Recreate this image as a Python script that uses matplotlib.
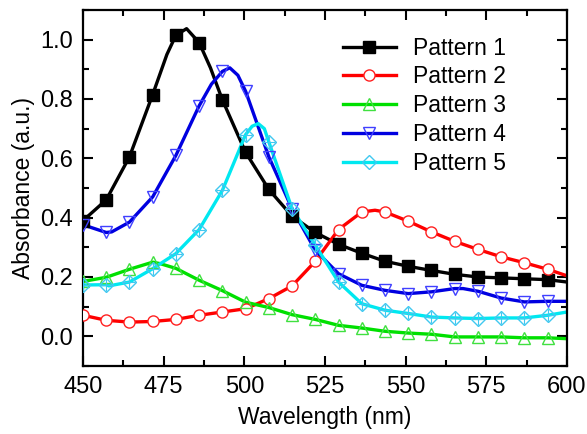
import numpy as np
import matplotlib
matplotlib.use("Agg")
import matplotlib.pyplot as plt
from matplotlib.ticker import MultipleLocator

plt.rcParams['font.family'] = ['Liberation Sans', 'DejaVu Sans']

# marker positions (nm), shared by all patterns
wavelength = [450.0, 457.2, 464.4, 471.6, 478.8, 486.0, 493.2, 500.4, 507.6,
              514.8, 522.0, 529.2, 536.4, 543.6, 550.8, 558.0, 565.2, 572.4,
              579.6, 586.8, 594.0]

# absorbance read at the markers
pattern1 = [0.390, 0.460, 0.605, 0.815, 1.015, 0.990, 0.797, 0.620, 0.495,
            0.405, 0.350, 0.310, 0.280, 0.253, 0.236, 0.222, 0.209, 0.200,
            0.197, 0.194, 0.191]
pattern2 = [0.071, 0.054, 0.048, 0.050, 0.057, 0.071, 0.082, 0.093, 0.127,
            0.170, 0.253, 0.360, 0.419, 0.419, 0.388, 0.352, 0.320, 0.293,
            0.268, 0.248, 0.226]
pattern3 = [0.185, 0.199, 0.226, 0.250, 0.229, 0.189, 0.154, 0.115, 0.097,
            0.073, 0.057, 0.037, 0.028, 0.017, 0.011, 0.007, -0.002, -0.002,
            -0.002, -0.005, -0.005]
pattern4 = [0.376, 0.350, 0.385, 0.470, 0.610, 0.777, 0.893, 0.826, 0.605,
            0.430, 0.290, 0.211, 0.172, 0.155, 0.144, 0.150, 0.161, 0.152,
            0.129, 0.116, 0.118]
pattern5 = [0.173, 0.174, 0.183, 0.228, 0.279, 0.360, 0.492, 0.680, 0.655,
            0.430, 0.307, 0.183, 0.110, 0.088, 0.077, 0.065, 0.062, 0.060,
            0.062, 0.062, 0.071]

# extra points on the drawn curves (peaks, minima, right edge)
extra1_x, extra1_y = [476.0, 482.1, 489.5, 600.0], [0.950, 1.037, 0.905, 0.183]
extra2_x, extra2_y = [540.5, 600.0], [0.425, 0.204]
extra3_x, extra3_y = [473.9, 600.0], [0.245, -0.008]
extra4_x, extra4_y = [458.9, 489.8, 495.5, 498.0, 567.8, 600.0], \
                     [0.352, 0.850, 0.905, 0.880, 0.161, 0.118]
extra5_x, extra5_y = [458.0, 502.4, 504.3, 506.2, 600.0], \
                     [0.170, 0.708, 0.717, 0.700, 0.082]

labels = ["Pattern 1", "Pattern 2", "Pattern 3", "Pattern 4", "Pattern 5"]
colors = ["#000000", "#FF0000", "#00E000", "#0000E0", "#00E8F0"]
edge_colors = ["#000000", "#FF2020", "#40E040", "#4040FF", "#40C8F0"]
face_colors = ["#000000", "white", "none", "none", "none"]
markers = ["s", "o", "^", "v", "D"]

fig = plt.figure(figsize=(5.87, 4.34), dpi=100)
ax = fig.add_axes([0.1414, 0.1567, 0.8245, 0.8203])

series = [(pattern1, extra1_x, extra1_y), (pattern2, extra2_x, extra2_y),
          (pattern3, extra3_x, extra3_y), (pattern4, extra4_x, extra4_y),
          (pattern5, extra5_x, extra5_y)]

for k, (vals, ex, ey) in enumerate(series):
    lx = np.array(wavelength + ex)
    ly = np.array(vals + ey)
    order = np.argsort(lx)
    ax.plot(lx[order], ly[order], color=colors[k], lw=2.4, zorder=2)
    ax.plot(wavelength, vals, ls='none', marker=markers[k],
            ms=8 if markers[k] != 'D' else 7, mfc=face_colors[k],
            mec=edge_colors[k], mew=1.0, zorder=3)
    if markers[k] == 'D':
        # cross inside diamond
        ax.plot(wavelength, vals, ls='none', marker='+', ms=8,
                mec=edge_colors[k], mew=0.8, zorder=3)

# legend proxies
handles = []
for k in range(5):
    h, = ax.plot([], [], color=colors[k], lw=2.4, marker=markers[k],
                 ms=8 if markers[k] != 'D' else 7, mfc=face_colors[k],
                 mec=edge_colors[k], mew=1.0)
    handles.append(h)
ax.legend(handles, labels, loc='upper left', bbox_to_anchor=(0.537, 0.925),
          frameon=False, fontsize=16.5, handlelength=2.3, handletextpad=0.75,
          labelspacing=0.25, borderpad=0, borderaxespad=0, numpoints=1)

ax.set_xlim(450, 600)
ax.set_ylim(-0.1, 1.1)
ax.xaxis.set_major_locator(MultipleLocator(25))
ax.xaxis.set_minor_locator(MultipleLocator(12.5))
ax.yaxis.set_major_locator(MultipleLocator(0.2))
ax.yaxis.set_minor_locator(MultipleLocator(0.1))
ax.set_yticks([0.0, 0.2, 0.4, 0.6, 0.8, 1.0])
ax.set_yticklabels(["0.0", "0.2", "0.4", "0.6", "0.8", "1.0"])

ax.tick_params(which='both', direction='in', top=True, right=True,
               labelsize=17, width=1.5)
ax.tick_params(which='major', length=7, pad=7)
ax.tick_params(which='minor', length=4)
for s in ax.spines.values():
    s.set_linewidth(1.6)

ax.set_xlabel("Wavelength (nm)", fontsize=16.5, labelpad=6)
ax.set_ylabel("Absorbance (a.u.)", fontsize=16.5, labelpad=4)

fig.savefig("out.png", dpi=100)
